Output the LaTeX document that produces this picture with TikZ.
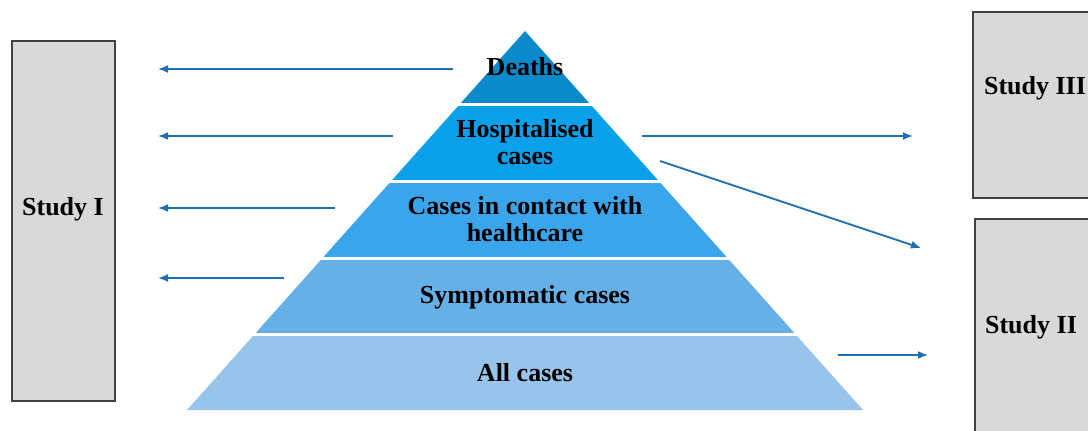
\documentclass[tikz,border=0pt]{standalone}
\usepackage{fontspec}
\setmainfont{Liberation Serif}
\usetikzlibrary{arrows.meta}

\definecolor{deathblue}{RGB}{11,138,203}
\definecolor{hospblue}{RGB}{10,160,234}
\definecolor{contactblue}{RGB}{58,165,235}
\definecolor{symptblue}{RGB}{102,176,232}
\definecolor{allblue}{RGB}{152,195,234}
\definecolor{boxgray}{RGB}{217,217,217}
\definecolor{boxedge}{RGB}{64,64,64}
\definecolor{arrowblue}{RGB}{31,111,178}

\tikzset{
  studybox/.style={draw=boxedge, fill=boxgray, line width=0.25mm, rectangle, inner sep=0pt},
  layertext/.style={font=\fontsize{14.8}{15.5}\selectfont\bfseries, align=center},
  studytext/.style={font=\fontsize{14.8}{15.5}\selectfont\bfseries},
  pointer/.style={draw=arrowblue, line width=0.35mm, -{Latex[length=2mm,width=1.6mm]}},
}

\begin{document}
\begin{tikzpicture}[x=0.02cm,y=-0.02cm]
  \useasboundingbox (0,0) rectangle (1088,430);
  % Pyramid layers
  \fill[allblue] (187,410) -- (863,410) -- (795.7,334.5) -- (254.3,334.5) -- cycle;
  \fill[symptblue] (254.3,334.5) -- (795.7,334.5) -- (727.9,258.5) -- (322.1,258.5) -- cycle;
  \fill[contactblue] (322.1,258.5) -- (727.9,258.5) -- (659.2,181.5) -- (390.8,181.5) -- cycle;
  \fill[hospblue] (390.8,181.5) -- (659.2,181.5) -- (590.5,104.5) -- (459.5,104.5) -- cycle;
  \fill[deathblue] (459.5,104.5) -- (590.5,104.5) -- (525,31) -- cycle;
  % White gaps between the layers
  \draw[white, line width=0.06cm] (240,334.5) -- (810,334.5);
  \draw[white, line width=0.06cm] (310,258.5) -- (740,258.5);
  \draw[white, line width=0.06cm] (380,181.5) -- (670,181.5);
  \draw[white, line width=0.06cm] (450,104.5) -- (600,104.5);
  \node[layertext] (deaths) at (525,67) {Deaths};
  \node[layertext] (hosp) at (525,142) {Hospitalised\\cases};
  \node[layertext] (contact) at (525,219) {Cases in contact with\\healthcare};
  \node[layertext] (sympt) at (525,297) {Symptomatic cases};
  \node[layertext] (allcases) at (525,373) {All cases};
  % Study boxes
  \node[studybox, minimum width=2.06cm, minimum height=7.2cm] (study1) at (63.5,221) {};
  \node[studybox, minimum width=2.48cm, minimum height=3.72cm] (study3) at (1035,105) {};
  \node[studybox, minimum width=2.44cm, minimum height=4.52cm] (study2) at (1036,332) {};
  \node[studytext] (study1label) at (63,209) {Study I};
  \node[studytext] (study3label) at (1035,88) {Study III};
  \node[studytext] (study2label) at (1031,327) {Study II};
  % Arrow ends
  \coordinate (d0) at (453,69);
  \coordinate (d1) at (158,69);
  \coordinate (h0) at (393,136);
  \coordinate (h1) at (158,136);
  \coordinate (c0) at (335,208);
  \coordinate (c1) at (158,208);
  \coordinate (s0) at (284,278);
  \coordinate (s1) at (158,278);
  \coordinate (h2) at (642,136);
  \coordinate (h3) at (913,136);
  \coordinate (h4) at (660,161);
  \coordinate (h5) at (921,248);
  \coordinate (a0) at (838,355);
  \coordinate (a1) at (928,355);
  % Draw the arrows
  \draw[pointer] (d0) -- (d1);
  \draw[pointer] (h0) -- (h1);
  \draw[pointer] (c0) -- (c1);
  \draw[pointer] (s0) -- (s1);
  \draw[pointer] (h2) -- (h3);
  \draw[pointer] (h4) -- (h5);
  \draw[pointer] (a0) -- (a1);
\end{tikzpicture}
\end{document}
